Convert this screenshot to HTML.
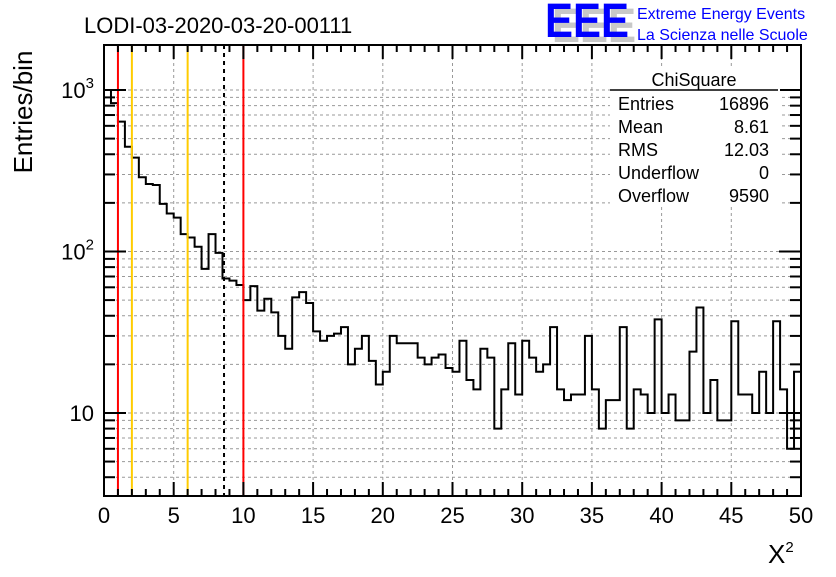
<!DOCTYPE html>
<html><head><meta charset="utf-8"><style>
html,body{margin:0;padding:0;background:#fff;}
svg text{font-family:"Liberation Sans",sans-serif;}
</style></head><body>
<svg id="c" width="836" height="572" xmlns="http://www.w3.org/2000/svg">
<g id="grid"></g>
<g id="marks"></g>
<g id="axes"></g>
<g>
<rect x="610" y="68" width="170" height="138" fill="#fff"/>
<text x="694" y="86" font-size="18" text-anchor="middle">ChiSquare</text>
<line x1="610" y1="90" x2="778" y2="90" stroke="#000" stroke-width="1.5"/>
<g font-size="18">
<text x="618" y="110">Entries</text><text x="769" y="110" text-anchor="end">16896</text>
<text x="618" y="133">Mean</text><text x="769" y="133" text-anchor="end">8.61</text>
<text x="618" y="156">RMS</text><text x="769" y="156" text-anchor="end">12.03</text>
<text x="618" y="179">Underflow</text><text x="769" y="179" text-anchor="end">0</text>
<text x="618" y="202">Overflow</text><text x="769" y="202" text-anchor="end">9590</text>
</g></g>
<text x="84" y="33" font-size="22">LODI-03-2020-03-20-00111</text>
<g>
<text x="552" y="42" font-size="48" font-weight="bold" fill="#c8c8c8" textLength="84" lengthAdjust="spacingAndGlyphs">EEE</text>
<text x="545" y="37" font-size="48" font-weight="bold" fill="#0000ff" textLength="84" lengthAdjust="spacingAndGlyphs">EEE</text>
<text x="637" y="19" font-size="16" fill="#0000ff">Extreme Energy Events</text>
<text x="637" y="40" font-size="16" fill="#0000ff">La Scienza nelle Scuole</text>
</g>
<text transform="translate(32,112) rotate(-90)" font-size="26" text-anchor="middle">Entries/bin</text>
<text x="768" y="563" font-size="26" font-family="Liberation Serif">X<tspan font-size="15" dy="-11">2</tspan></text>
</svg>
<script>
const binCounts=[1000,830,637,445,381,288,262,258,197,172,162,128,122,107,78,128,98,68,66,62,
50,61,43,51,42,30,25,52,56,48,32,28,30,31,34,20,25,30,21,15,
18,30,27,27,27,22,20,22,23,19,18,28,16,14,25,22,8,14,27,13,
28,22,18,20,34,14,12,13,13,30,14,8,12,12,34,8,14,13,10,38,
10,13,9,9,24,45,10,16,9,9,37,13,13,10,18,10,37,14,6,18];
const xMin=0,xMax=50;
const xTicks=[0,5,10,15,20,25,30,35,40,45,50];
const yMajor=[10,100,1000];
const markers=[{v:1,c:'#ff0000',d:''},{v:2,c:'#ffcc00',d:''},{v:6,c:'#ffcc00',d:''},{v:8.61,c:'#000',d:'4,4'},{v:10,c:'#ff0000',d:''}];
const L=104,R=801,T=45,B=496;
const yLo=Math.log10(3.06),yHi=Math.log10(1900);
const X=v=>L+(v-xMin)/(xMax-xMin)*(R-L);
const Y=v=>B-(Math.log10(v)-yLo)/(yHi-yLo)*(B-T);
const NS='http://www.w3.org/2000/svg';
function mk(parent,tag,attrs){const e=document.createElementNS(NS,tag);for(const k in attrs)e.setAttribute(k,attrs[k]);parent.appendChild(e);return e;}
const grid=document.getElementById('grid'),marks=document.getElementById('marks'),axes=document.getElementById('axes');
xTicks.forEach(t=>{if(t>xMin&&t<xMax){const l=mk(grid,'line',{x1:X(t),x2:X(t),y1:T,y2:B,stroke:'#999','stroke-dasharray':'3,3'});

}});
for(let d=1;d<=1000;d*=10)for(let m=1;m<10;m++){const v=d*m;if(v<3.06||v>1900)continue;
const l=mk(grid,'line',{x1:L,x2:R,y1:Y(v),y2:Y(v),stroke:'#999','stroke-dasharray':'3,3'});

}
const bw=(xMax-xMin)/binCounts.length;
let p='M'+X(0)+','+B;
binCounts.forEach((c,i)=>{p+=' L'+X(i*bw)+','+Y(c)+' L'+X((i+1)*bw)+','+Y(c);});
p+=' L'+X(xMax)+','+B;
const h=mk(marks,'path',{d:p,fill:'none',stroke:'#000','stroke-width':2});


markers.forEach(m=>{const l=mk(marks,'line',{x1:X(m.v),x2:X(m.v),y1:T,y2:B,stroke:m.c,'stroke-width':2,'stroke-dasharray':m.d});

});
mk(axes,'rect',{x:L,y:T,width:R-L,height:B-T,fill:'none',stroke:'#000','stroke-width':2});
for(let v=xMin;v<=xMax;v++){const len=v%5===0?14:7;
mk(axes,'line',{x1:X(v),x2:X(v),y1:B,y2:B-len,stroke:'#000','stroke-width':2});
mk(axes,'line',{x1:X(v),x2:X(v),y1:T,y2:T+len,stroke:'#000','stroke-width':2});}
xTicks.forEach(t=>{const tx=mk(axes,'text',{x:X(t),y:B+27,'font-size':22,'text-anchor':'middle'});tx.textContent=t;

});
for(let d=1;d<=1000;d*=10)for(let m=1;m<10;m++){const v=d*m;if(v<3.06||v>1900)continue;const len=m===1?22:11;
mk(axes,'line',{x1:L,x2:L+len,y1:Y(v),y2:Y(v),stroke:'#000','stroke-width':2});
mk(axes,'line',{x1:R,x2:R-len,y1:Y(v),y2:Y(v),stroke:'#000','stroke-width':2});}
yMajor.forEach(v=>{const tx=mk(axes,'text',{x:L-10,y:Y(v)+8,'font-size':22,'text-anchor':'end'});
if(v===10)tx.textContent='10';else{tx.textContent='10';const s=mk(tx,'tspan',{dy:-10,'font-size':15});s.textContent=Math.log10(v);}

});
</script>
</body></html>
